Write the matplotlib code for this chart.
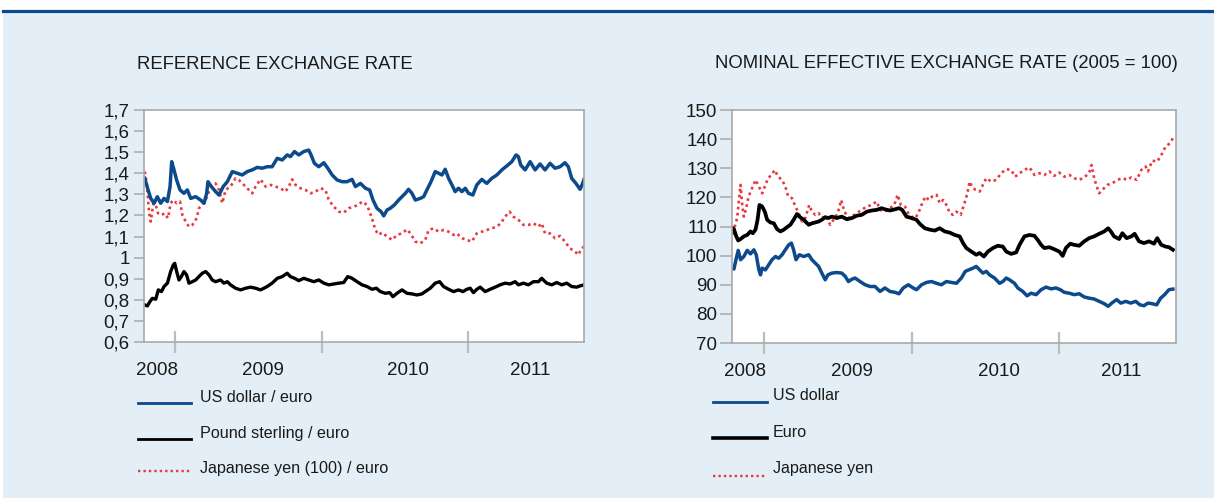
import matplotlib.pyplot as plt
from matplotlib.lines import Line2D
from matplotlib.patches import Rectangle

plt.rcParams['font.family'] = ['Liberation Sans', 'DejaVu Sans']

# -------------------------
# Data (decimal year, value)
# -------------------------
usd_per_eur = [
    (2008.790, 1.376), (2008.813, 1.321), (2008.831, 1.281), (2008.854, 1.258), (2008.876, 1.289),
    (2008.899, 1.258), (2008.922, 1.281), (2008.945, 1.266), (2008.963, 1.337), (2008.974, 1.455),
    (2008.990, 1.416), (2009.008, 1.368), (2009.031, 1.321), (2009.058, 1.305), (2009.081, 1.321),
    (2009.104, 1.281), (2009.138, 1.289), (2009.172, 1.273), (2009.195, 1.258), (2009.213, 1.305),
    (2009.222, 1.360), (2009.245, 1.337), (2009.274, 1.313), (2009.297, 1.297), (2009.326, 1.337),
    (2009.354, 1.360), (2009.388, 1.408), (2009.422, 1.400), (2009.456, 1.392), (2009.490, 1.408),
    (2009.524, 1.416), (2009.558, 1.428), (2009.592, 1.424), (2009.626, 1.431), (2009.660, 1.431),
    (2009.695, 1.471), (2009.729, 1.463), (2009.763, 1.487), (2009.785, 1.479), (2009.813, 1.503),
    (2009.842, 1.487), (2009.876, 1.503), (2009.910, 1.510), (2009.926, 1.487), (2009.949, 1.447),
    (2009.979, 1.431), (2010.013, 1.450), (2010.040, 1.424), (2010.070, 1.392), (2010.104, 1.368),
    (2010.138, 1.360), (2010.172, 1.360), (2010.206, 1.371), (2010.229, 1.337), (2010.263, 1.352),
    (2010.297, 1.329), (2010.326, 1.321), (2010.349, 1.273), (2010.376, 1.234), (2010.404, 1.218),
    (2010.422, 1.198), (2010.445, 1.226), (2010.467, 1.234), (2010.495, 1.250), (2010.524, 1.273),
    (2010.547, 1.289), (2010.570, 1.305), (2010.592, 1.324), (2010.615, 1.305), (2010.638, 1.273),
    (2010.672, 1.281), (2010.695, 1.289), (2010.717, 1.321), (2010.745, 1.360), (2010.774, 1.408),
    (2010.797, 1.400), (2010.820, 1.392), (2010.842, 1.419), (2010.865, 1.376), (2010.888, 1.345),
    (2010.910, 1.313), (2010.933, 1.329), (2010.956, 1.313), (2010.979, 1.329), (2011.001, 1.305),
    (2011.031, 1.297), (2011.058, 1.345), (2011.092, 1.371), (2011.126, 1.352), (2011.160, 1.376),
    (2011.195, 1.392), (2011.229, 1.416), (2011.263, 1.435), (2011.297, 1.455), (2011.326, 1.487),
    (2011.342, 1.479), (2011.358, 1.439), (2011.388, 1.416), (2011.422, 1.455), (2011.456, 1.416),
    (2011.490, 1.444), (2011.524, 1.416), (2011.558, 1.447), (2011.592, 1.424), (2011.626, 1.431),
    (2011.660, 1.450), (2011.683, 1.431), (2011.706, 1.376), (2011.735, 1.352), (2011.763, 1.324),
    (2011.781, 1.352), (2011.790, 1.371),
]

gbp_per_eur = [
    (2008.790, 0.776), (2008.808, 0.771), (2008.826, 0.792), (2008.842, 0.807), (2008.865, 0.803),
    (2008.883, 0.847), (2008.904, 0.839), (2008.922, 0.863), (2008.945, 0.879), (2008.967, 0.934),
    (2008.985, 0.965), (2008.995, 0.973), (2009.008, 0.934), (2009.024, 0.894), (2009.040, 0.910),
    (2009.058, 0.934), (2009.076, 0.918), (2009.092, 0.879), (2009.115, 0.886), (2009.138, 0.894),
    (2009.160, 0.910), (2009.183, 0.926), (2009.206, 0.934), (2009.229, 0.918), (2009.251, 0.894),
    (2009.274, 0.886), (2009.308, 0.894), (2009.331, 0.879), (2009.354, 0.886), (2009.376, 0.871),
    (2009.410, 0.855), (2009.445, 0.847), (2009.479, 0.855), (2009.513, 0.860), (2009.547, 0.855),
    (2009.581, 0.847), (2009.604, 0.855), (2009.626, 0.863), (2009.660, 0.879), (2009.695, 0.902),
    (2009.729, 0.910), (2009.763, 0.926), (2009.785, 0.910), (2009.813, 0.902), (2009.842, 0.891),
    (2009.876, 0.902), (2009.910, 0.894), (2009.945, 0.886), (2009.979, 0.894), (2010.013, 0.879),
    (2010.047, 0.871), (2010.081, 0.875), (2010.115, 0.879), (2010.149, 0.882), (2010.176, 0.910),
    (2010.206, 0.902), (2010.240, 0.886), (2010.274, 0.871), (2010.308, 0.863), (2010.342, 0.850),
    (2010.372, 0.855), (2010.399, 0.839), (2010.433, 0.831), (2010.463, 0.834), (2010.485, 0.815),
    (2010.513, 0.831), (2010.547, 0.847), (2010.581, 0.831), (2010.615, 0.828), (2010.649, 0.823),
    (2010.683, 0.828), (2010.706, 0.839), (2010.740, 0.855), (2010.774, 0.879), (2010.804, 0.886),
    (2010.831, 0.863), (2010.865, 0.850), (2010.899, 0.839), (2010.933, 0.847), (2010.963, 0.839),
    (2010.990, 0.850), (2011.013, 0.855), (2011.035, 0.834), (2011.058, 0.850), (2011.081, 0.860),
    (2011.115, 0.839), (2011.149, 0.850), (2011.183, 0.860), (2011.217, 0.871), (2011.251, 0.879),
    (2011.285, 0.875), (2011.320, 0.886), (2011.342, 0.871), (2011.376, 0.879), (2011.410, 0.871),
    (2011.445, 0.886), (2011.479, 0.886), (2011.501, 0.902), (2011.535, 0.879), (2011.570, 0.871),
    (2011.604, 0.882), (2011.638, 0.871), (2011.672, 0.879), (2011.706, 0.863), (2011.740, 0.860),
    (2011.763, 0.866), (2011.790, 0.871),
]

jpy100_per_eur = [
    (2008.790, 1.408), (2008.804, 1.352), (2008.820, 1.210), (2008.831, 1.171), (2008.849, 1.258),
    (2008.865, 1.250), (2008.881, 1.210), (2008.904, 1.202), (2008.926, 1.210), (2008.949, 1.187),
    (2008.967, 1.258), (2008.985, 1.273), (2009.008, 1.258), (2009.031, 1.266), (2009.047, 1.202),
    (2009.070, 1.171), (2009.092, 1.147), (2009.115, 1.155), (2009.145, 1.187), (2009.160, 1.234),
    (2009.183, 1.250), (2009.206, 1.273), (2009.229, 1.313), (2009.251, 1.337), (2009.274, 1.352),
    (2009.297, 1.321), (2009.320, 1.258), (2009.342, 1.321), (2009.376, 1.337), (2009.410, 1.376),
    (2009.433, 1.368), (2009.467, 1.345), (2009.501, 1.321), (2009.524, 1.305), (2009.547, 1.337),
    (2009.581, 1.371), (2009.615, 1.337), (2009.649, 1.345), (2009.683, 1.337), (2009.717, 1.329),
    (2009.751, 1.313), (2009.774, 1.337), (2009.797, 1.371), (2009.820, 1.345), (2009.854, 1.329),
    (2009.888, 1.321), (2009.922, 1.305), (2009.956, 1.313), (2009.990, 1.329), (2010.024, 1.321),
    (2010.047, 1.273), (2010.081, 1.242), (2010.115, 1.218), (2010.149, 1.213), (2010.183, 1.234),
    (2010.217, 1.242), (2010.251, 1.250), (2010.274, 1.266), (2010.308, 1.250), (2010.342, 1.187),
    (2010.365, 1.131), (2010.388, 1.108), (2010.410, 1.119), (2010.445, 1.100), (2010.479, 1.084),
    (2010.513, 1.108), (2010.547, 1.115), (2010.581, 1.134), (2010.604, 1.115), (2010.638, 1.076),
    (2010.672, 1.068), (2010.706, 1.084), (2010.729, 1.131), (2010.763, 1.139), (2010.797, 1.123),
    (2010.831, 1.131), (2010.865, 1.123), (2010.899, 1.108), (2010.922, 1.115), (2010.956, 1.092),
    (2010.990, 1.084), (2011.024, 1.076), (2011.058, 1.115), (2011.092, 1.123), (2011.126, 1.131),
    (2011.160, 1.139), (2011.195, 1.147), (2011.222, 1.163), (2011.251, 1.194), (2011.281, 1.218),
    (2011.308, 1.194), (2011.342, 1.179), (2011.376, 1.155), (2011.410, 1.155), (2011.445, 1.163),
    (2011.479, 1.147), (2011.501, 1.163), (2011.524, 1.115), (2011.558, 1.115), (2011.592, 1.092),
    (2011.626, 1.103), (2011.660, 1.076), (2011.694, 1.044), (2011.729, 1.029), (2011.751, 1.013),
    (2011.774, 1.044), (2011.790, 1.052),
]

neer_usd = [
    (2008.780, 95.7), (2008.798, 95.4), (2008.814, 99.1), (2008.827, 101.8), (2008.843, 98.6),
    (2008.865, 99.7), (2008.888, 101.8), (2008.910, 100.6), (2008.933, 102.0), (2008.949, 100.3),
    (2008.967, 95.1), (2008.978, 93.4), (2008.989, 95.7), (2009.011, 95.1), (2009.034, 96.9),
    (2009.056, 98.6), (2009.079, 99.7), (2009.101, 99.1), (2009.124, 100.3), (2009.146, 102.0),
    (2009.169, 103.7), (2009.187, 104.3), (2009.202, 102.0), (2009.218, 98.6), (2009.241, 100.3),
    (2009.270, 99.7), (2009.304, 100.3), (2009.326, 98.6), (2009.349, 97.4), (2009.371, 96.3),
    (2009.393, 94.0), (2009.416, 91.7), (2009.434, 93.4), (2009.461, 94.0), (2009.495, 94.2),
    (2009.528, 94.0), (2009.551, 92.9), (2009.573, 91.1), (2009.596, 91.9), (2009.618, 92.3),
    (2009.652, 91.1), (2009.686, 90.0), (2009.719, 89.4), (2009.753, 89.4), (2009.787, 87.7),
    (2009.820, 88.9), (2009.854, 87.7), (2009.888, 87.4), (2009.915, 86.9), (2009.944, 88.9),
    (2009.978, 90.0), (2010.011, 88.9), (2010.034, 88.3), (2010.068, 90.0), (2010.101, 90.8),
    (2010.135, 91.1), (2010.169, 90.5), (2010.202, 90.0), (2010.236, 91.1), (2010.270, 90.8),
    (2010.304, 90.5), (2010.337, 92.3), (2010.364, 94.6), (2010.387, 95.1), (2010.416, 95.7),
    (2010.438, 96.3), (2010.461, 95.1), (2010.483, 94.0), (2010.506, 94.6), (2010.528, 93.4),
    (2010.562, 92.3), (2010.596, 90.5), (2010.618, 91.1), (2010.641, 92.3), (2010.663, 91.7),
    (2010.697, 90.5), (2010.719, 88.9), (2010.753, 87.7), (2010.782, 86.2), (2010.809, 87.1),
    (2010.843, 86.6), (2010.877, 88.3), (2010.910, 89.2), (2010.944, 88.6), (2010.978, 88.9),
    (2011.007, 88.3), (2011.034, 87.4), (2011.068, 87.1), (2011.101, 86.6), (2011.135, 86.9),
    (2011.169, 85.8), (2011.202, 85.4), (2011.236, 85.1), (2011.270, 84.3), (2011.304, 83.5),
    (2011.331, 82.6), (2011.360, 83.9), (2011.389, 84.9), (2011.416, 83.7), (2011.450, 84.3),
    (2011.483, 83.7), (2011.517, 84.3), (2011.546, 83.1), (2011.573, 82.8), (2011.600, 83.7),
    (2011.629, 83.5), (2011.659, 83.1), (2011.686, 85.4), (2011.713, 86.6), (2011.742, 88.3),
    (2011.769, 88.5),
]

neer_eur = [
    (2008.780, 109.8), (2008.798, 109.1), (2008.814, 106.6), (2008.827, 105.2), (2008.843, 105.7),
    (2008.865, 106.6), (2008.888, 107.1), (2008.910, 108.3), (2008.926, 107.7), (2008.944, 108.9),
    (2008.958, 112.3), (2008.971, 117.4), (2008.989, 116.9), (2009.007, 115.1), (2009.023, 112.3),
    (2009.045, 111.4), (2009.068, 111.1), (2009.090, 109.1), (2009.113, 108.3), (2009.135, 108.9),
    (2009.158, 109.8), (2009.180, 110.6), (2009.202, 112.3), (2009.225, 114.3), (2009.241, 113.4),
    (2009.270, 112.3), (2009.304, 110.6), (2009.326, 111.1), (2009.349, 111.4), (2009.371, 111.7),
    (2009.393, 112.3), (2009.416, 113.2), (2009.438, 112.9), (2009.461, 113.4), (2009.495, 112.9),
    (2009.528, 113.4), (2009.562, 112.5), (2009.596, 112.9), (2009.629, 113.7), (2009.663, 114.0),
    (2009.697, 115.1), (2009.731, 115.5), (2009.764, 115.7), (2009.798, 116.3), (2009.820, 115.9),
    (2009.854, 115.5), (2009.888, 115.9), (2009.915, 116.3), (2009.937, 115.7), (2009.966, 113.4),
    (2010.000, 112.9), (2010.034, 112.3), (2010.056, 110.9), (2010.090, 109.4), (2010.124, 108.9),
    (2010.158, 108.6), (2010.191, 109.4), (2010.225, 108.3), (2010.259, 107.9), (2010.292, 107.1),
    (2010.326, 106.6), (2010.349, 104.3), (2010.371, 102.6), (2010.405, 101.4), (2010.438, 100.3),
    (2010.461, 100.9), (2010.490, 99.7), (2010.517, 101.4), (2010.551, 102.6), (2010.584, 103.4),
    (2010.618, 103.1), (2010.641, 101.4), (2010.674, 100.6), (2010.708, 101.1), (2010.731, 103.7),
    (2010.764, 106.6), (2010.798, 107.1), (2010.832, 106.8), (2010.854, 105.4), (2010.877, 103.7),
    (2010.899, 102.6), (2010.933, 102.9), (2010.966, 102.2), (2011.000, 101.4), (2011.023, 99.9),
    (2011.045, 102.6), (2011.074, 104.1), (2011.101, 103.7), (2011.135, 103.4), (2011.169, 104.9),
    (2011.202, 106.0), (2011.236, 106.6), (2011.270, 107.5), (2011.304, 108.3), (2011.331, 109.4),
    (2011.349, 108.3), (2011.371, 106.6), (2011.405, 105.7), (2011.427, 107.7), (2011.456, 106.0),
    (2011.488, 106.6), (2011.510, 107.5), (2011.540, 104.9), (2011.573, 104.3), (2011.607, 104.9),
    (2011.641, 104.1), (2011.663, 106.0), (2011.690, 103.7), (2011.719, 103.1), (2011.742, 102.9),
    (2011.769, 102.0),
]

neer_jpy = [
    (2008.780, 110.0), (2008.791, 106.8), (2008.805, 110.2), (2008.820, 112.9), (2008.832, 119.1),
    (2008.843, 124.3), (2008.854, 117.4), (2008.865, 113.4), (2008.881, 116.3), (2008.895, 119.7),
    (2008.910, 122.0), (2008.926, 123.7), (2008.944, 126.0), (2008.967, 123.7), (2008.989, 121.4),
    (2009.007, 123.7), (2009.029, 126.6), (2009.052, 127.7), (2009.074, 129.4), (2009.097, 127.1),
    (2009.124, 126.0), (2009.146, 123.7), (2009.164, 120.5), (2009.191, 119.7), (2009.214, 116.9),
    (2009.236, 114.6), (2009.259, 111.7), (2009.281, 112.9), (2009.308, 117.4), (2009.326, 115.1),
    (2009.349, 114.0), (2009.371, 114.6), (2009.393, 112.9), (2009.416, 113.7), (2009.450, 110.6),
    (2009.472, 112.3), (2009.501, 114.6), (2009.524, 119.1), (2009.546, 115.1), (2009.573, 112.9),
    (2009.596, 113.4), (2009.629, 114.6), (2009.663, 115.7), (2009.697, 116.9), (2009.731, 117.4),
    (2009.764, 118.6), (2009.787, 115.7), (2009.820, 115.1), (2009.854, 116.3), (2009.883, 117.4),
    (2009.906, 120.9), (2009.928, 117.4), (2009.955, 116.9), (2009.978, 114.6), (2010.000, 113.4),
    (2010.027, 112.9), (2010.050, 115.1), (2010.072, 118.0), (2010.095, 120.3), (2010.117, 119.1),
    (2010.140, 120.3), (2010.169, 120.9), (2010.191, 118.0), (2010.214, 119.1), (2010.236, 117.4),
    (2010.259, 114.6), (2010.281, 114.0), (2010.304, 115.1), (2010.333, 114.0), (2010.355, 117.4),
    (2010.378, 121.4), (2010.393, 125.4), (2010.409, 123.7), (2010.432, 122.6), (2010.461, 122.0),
    (2010.483, 124.3), (2010.506, 126.6), (2010.540, 125.4), (2010.573, 126.0), (2010.607, 128.3),
    (2010.641, 129.7), (2010.674, 129.4), (2010.701, 127.1), (2010.731, 128.3), (2010.764, 129.4),
    (2010.798, 130.3), (2010.832, 127.7), (2010.865, 128.3), (2010.899, 127.7), (2010.933, 128.9),
    (2010.966, 127.4), (2011.000, 128.5), (2011.034, 127.1), (2011.068, 127.7), (2011.101, 126.6),
    (2011.135, 126.0), (2011.169, 126.9), (2011.202, 128.3), (2011.218, 131.1), (2011.236, 126.6),
    (2011.254, 123.7), (2011.270, 121.4), (2011.292, 122.6), (2011.326, 124.3), (2011.360, 124.9),
    (2011.394, 126.0), (2011.427, 126.6), (2011.461, 126.0), (2011.488, 126.9), (2011.524, 126.0),
    (2011.555, 129.4), (2011.584, 130.6), (2011.600, 128.9), (2011.629, 132.6), (2011.663, 132.3),
    (2011.697, 135.1), (2011.719, 137.4), (2011.749, 138.6), (2011.769, 140.3),
]

year_labels = ["2008", "2009", "2010", "2011"]
year_label_pos = [2008.875, 2009.595, 2010.59, 2011.42]
year_bounds = [2009, 2010, 2011]

left_yticks = [0.6, 0.7, 0.8, 0.9, 1.0, 1.1, 1.2, 1.3, 1.4, 1.5, 1.6, 1.7]
left_yticklabels = ["0,6", "0,7", "0,8", "0,9", "1", "1,1", "1,2", "1,3", "1,4", "1,5", "1,6", "1,7"]
right_yticks = [70, 80, 90, 100, 110, 120, 130, 140, 150]

left_title = "REFERENCE EXCHANGE RATE"
right_title = "NOMINAL EFFECTIVE EXCHANGE RATE (2005 = 100)"
left_names = ["US dollar / euro", "Pound sterling / euro", "Japanese yen (100) / euro"]
right_names = ["US dollar", "Euro", "Japanese yen"]

# -------------------------
# Styling
# -------------------------
W, H = 1214, 498
BG = '#e3eef6'
NAVY = '#0d4a8c'
RED = '#e8383d'
SPINE = '#a9a9a9'
CROSS = '#bdbdbd'
DOT = (0, (1, 1.3))


def fx(px):
    return px / W


def fy(py):
    return 1 - py / H


fig = plt.figure(figsize=(W / 100, H / 100), dpi=100)
fig.patch.set_facecolor('white')
fig.patches.append(Rectangle((fx(3), 0), 1 - fx(3), fy(12), transform=fig.transFigure,
                             facecolor=BG, edgecolor='none', zorder=-10))
fig.add_artist(Line2D([fx(3), 1], [fy(10.8), fy(10.8)], color=NAVY, lw=2.3))


def draw_panel(box, lines, ylim, yticks, yticklabels, tick_len, tick_pad):
    x0, y0, x1, y1 = box
    ax = fig.add_axes([fx(x0), fy(y1), fx(x1 - x0), (y1 - y0) / H])
    ax.set_zorder(5)
    ax.set_facecolor('white')
    for pairs, color, lw, ls in lines:
        xs = [p[0] for p in pairs]
        ys = [p[1] for p in pairs]
        ax.plot(xs, ys, color=color, lw=lw, linestyle=ls, dash_capstyle='butt',
                solid_joinstyle='round')
    ax.set_xlim(2008.785, 2011.79)
    ax.set_ylim(*ylim)
    ax.set_yticks(yticks)
    ax.set_yticklabels(yticklabels)
    ax.set_xticks(year_bounds)
    ax.set_xticklabels([])
    ax.set_xticks(year_label_pos, minor=True)
    ax.set_xticklabels(year_labels, minor=True)
    for s in ax.spines.values():
        s.set_color(SPINE)
        s.set_linewidth(1.2)
    ax.tick_params(axis='y', direction='out', length=tick_len, width=1.1, color=SPINE,
                   labelsize=13.5, pad=tick_pad, labelcolor='#1a1a1a')
    ax.tick_params(axis='x', which='major', direction='inout', length=16, width=1.6, color=CROSS)
    ax.tick_params(axis='x', which='minor', length=0, labelsize=13.5, pad=14.5, labelcolor='#1a1a1a')
    return ax


draw_panel((144, 110, 584, 342),
           [(jpy100_per_eur, RED, 1.9, DOT),
            (gbp_per_eur, 'black', 2.4, '-'),
            (usd_per_eur, NAVY, 2.5, '-')],
           (0.6, 1.7), left_yticks, left_yticklabels, 7.2, 3.2)

draw_panel((732, 110, 1176, 343),
           [(neer_jpy, RED, 1.9, DOT),
            (neer_usd, NAVY, 2.5, '-'),
            (neer_eur, 'black', 2.7, '-')],
           (70, 150), right_yticks, [str(v) for v in right_yticks], 9, 1.5)

fig.text(fx(137), fy(64), left_title, fontsize=13.3, va='center', ha='left', color='#1a1a1a')
fig.text(fx(715), fy(63), right_title, fontsize=13.3, va='center', ha='left', color='#1a1a1a')

# legends
left_styles = [(NAVY, 2.0, '-'), ('black', 2.0, '-'), (RED, 1.7, DOT)]
right_styles = [(NAVY, 2.0, '-'), ('black', 2.6, '-'), (RED, 1.7, DOT)]
for name, (c, lw, ls), ly, ty in zip(left_names, left_styles, [403, 439, 471], [397, 433, 468]):
    fig.add_artist(Line2D([fx(138), fx(191)], [fy(ly), fy(ly)], color=c, lw=lw, linestyle=ls,
                          dash_capstyle='butt'))
    fig.text(fx(200), fy(ty), name, fontsize=11.6, va='center', ha='left', color='#1a1a1a')
for name, (c, lw, ls), ly, ty in zip(right_names, right_styles, [402, 438, 476], [395, 432, 468]):
    fig.add_artist(Line2D([fx(713), fx(767)], [fy(ly), fy(ly)], color=c, lw=lw, linestyle=ls,
                          dash_capstyle='butt'))
    fig.text(fx(773), fy(ty), name, fontsize=11.6, va='center', ha='left', color='#1a1a1a')

fig.savefig('out.png', dpi=100, facecolor=fig.get_facecolor())
